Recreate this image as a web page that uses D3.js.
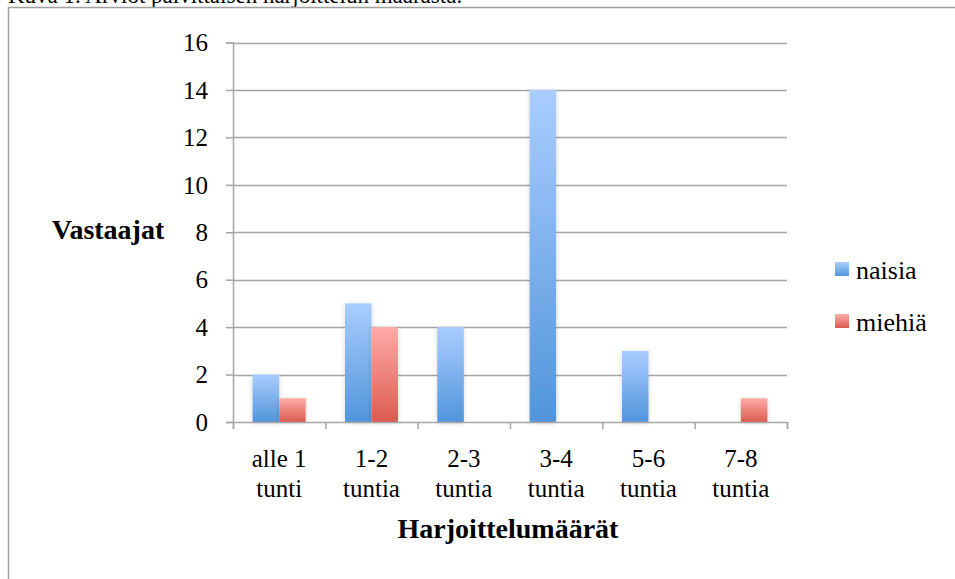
<!DOCTYPE html>
<html><head><meta charset="utf-8">
<script src="https://cdn.jsdelivr.net/npm/d3@7"></script>
<style>body{margin:0;background:#fff;}svg{display:block;}</style>
</head><body>
<script>
const categories = [["alle 1","tunti"],["1-2","tuntia"],["2-3","tuntia"],["3-4","tuntia"],["5-6","tuntia"],["7-8","tuntia"]];
const seriesNames = ["naisia","miehiä"];
const naisia = [2,5,4,14,3,0];
const miehia = [1,4,0,0,0,1];
const yTicks = [0,2,4,6,8,10,12,14,16];
const chartTitle = "Kuva 1. Arviot päivittäisen harjoittelun määrästä.";

(function(){
const W=955,H=579;
const svg=d3.select("body").append("svg").attr("width",W).attr("height",H);
const defs=svg.append("defs");
const grads=[["gBlue","#aacdff","#5195db"],["gRed","#ffaba7","#db5b4f"]];
grads.forEach(([id,c1,c2])=>{
  const g=defs.append("linearGradient").attr("id",id).attr("x1",0).attr("y1",0).attr("x2",0).attr("y2",1);
  g.append("stop").attr("offset","0%").attr("stop-color",c1);
  g.append("stop").attr("offset","100%").attr("stop-color",c2);
});
const f=defs.append("filter").attr("id","sh").attr("x","-30%").attr("y","-10%").attr("width","160%").attr("height","120%");
f.append("feGaussianBlur").attr("in","SourceAlpha").attr("stdDeviation",2.5).attr("result","b");
f.append("feOffset").attr("in","b").attr("dx",0).attr("dy",1).attr("result","o");
f.append("feComponentTransfer").attr("in","o").attr("result","o2").append("feFuncA").attr("type","linear").attr("slope",0.18);
const m=f.append("feMerge"); m.append("feMergeNode").attr("in","o2"); m.append("feMergeNode").attr("in","SourceGraphic");

const serif="'Liberation Serif', 'Times New Roman', serif";
const fs=25;
svg.append("text").attr("x",8).attr("y",3).attr("font-family",serif).attr("font-size",23).attr("fill","#000").text(chartTitle);
svg.append("path").attr("d",`M8.5,${H} V7.5 H${W}`).attr("fill","none").attr("stroke","#a0a0a0").attr("stroke-width",1.5);

const pL=233,pR=787,pT=42.5,pB=422;
const y=d3.scaleLinear().domain([0,16]).range([pB,pT]);
const x0=d3.scaleBand().domain(d3.range(categories.length)).range([pL,pR]).paddingInner(0.425).paddingOuter(0.2125);
const x1=d3.scaleBand().domain(seriesNames).range([0,x0.bandwidth()]);

svg.append("g").selectAll("line").data(yTicks.filter(d=>d>0)).join("line")
  .attr("x1",pL).attr("x2",pR).attr("y1",d=>Math.round(y(d))+0.5).attr("y2",d=>Math.round(y(d))+0.5)
  .attr("stroke","#a6a6a6").attr("stroke-width",1.5);

const ya=svg.append("g").attr("transform",`translate(${pL},0)`).call(d3.axisLeft(y).tickValues(yTicks).tickSize(7).tickPadding(18));
ya.select(".domain").attr("stroke","#a6a6a6").attr("stroke-width",1.5);
ya.selectAll(".tick line").attr("stroke","#a6a6a6").attr("stroke-width",1.5);
ya.selectAll("text").attr("font-family",serif).attr("font-size",fs).attr("fill","#000").attr("dy","0.33em");

const data=[naisia,miehia];
const fills=["url(#gBlue)","url(#gRed)"];
seriesNames.forEach((s,si)=>{
  svg.append("g").selectAll("rect").data(data[si]).join("rect")
    .attr("x",(d,i)=>x0(i)+x1(s)).attr("width",x1.bandwidth())
    .attr("y",d=>y(d)).attr("height",d=>y(0)-y(d))
    .attr("fill",fills[si]).attr("filter","url(#sh)");
});

const xAxisScale=d3.scaleLinear().domain([0,categories.length]).range([pL,pR]);
const xa=svg.append("g").attr("transform",`translate(0,${pB})`).call(d3.axisBottom(xAxisScale).tickValues(d3.range(categories.length+1)).tickSize(7).tickFormat(""));
xa.select(".domain").attr("stroke","#a6a6a6").attr("stroke-width",1.5);
xa.selectAll(".tick line").attr("stroke","#a6a6a6").attr("stroke-width",1.5);

const cl=svg.append("g").selectAll("text").data(categories).join("text")
  .attr("x",(d,i)=>x0(i)+x0.bandwidth()/2).attr("y",467)
  .attr("text-anchor","middle").attr("font-family",serif).attr("font-size",fs).attr("fill","#000");
cl.append("tspan").text(d=>d[0]);
cl.append("tspan").attr("x",(d,i)=>x0(i)+x0.bandwidth()/2).attr("dy",30).text(d=>d[1]);

svg.append("text").attr("x",108).attr("y",239).attr("text-anchor","middle").attr("font-family",serif).attr("font-weight","bold").attr("font-size",28).text("Vastaajat");
svg.append("text").attr("x",508).attr("y",538).attr("text-anchor","middle").attr("font-family",serif).attr("font-weight","bold").attr("font-size",28).text("Harjoittelumäärät");

const lg=svg.append("g").selectAll("g").data(seriesNames).join("g").attr("transform",(d,i)=>`translate(835,${262+i*52})`);
lg.append("rect").attr("width",14).attr("height",14).attr("fill",(d,i)=>fills[i]);
lg.append("text").attr("x",21).attr("y",17).attr("font-family",serif).attr("font-size",26).text(d=>d);
})();
</script>
</body></html>
